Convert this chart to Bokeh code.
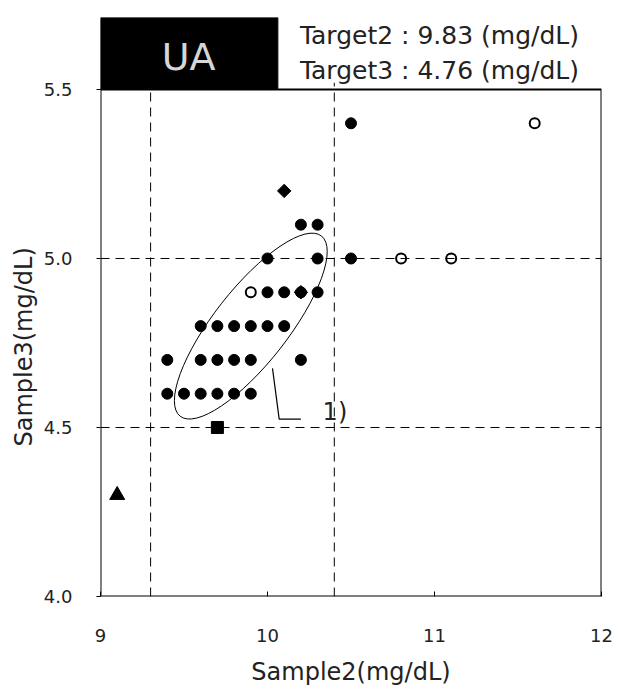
from bokeh.plotting import figure
from bokeh.models import (FixedTicker, NumeralTickFormatter, Range1d, BoxAnnotation,
                          Span, Title)
from bokeh.core.properties import value
from bokeh.embed import file_html
from bokeh.resources import INLINE
import math

# ---------------- data ----------------
title_text = ["UA"]
target_lines = ["Target2 : 9.83 (mg/dL)", "Target3 : 4.76 (mg/dL)"]
x_label = "Sample2(mg/dL)"
y_label = "Sample3(mg/dL)"

x_ticks = [9, 10, 11, 12]
y_ticks = [4.0, 4.5, 5.0, 5.5]

# filled circles
filled_x = [9.4, 9.5, 9.6, 9.7, 9.8, 9.9,
            9.4, 9.6, 9.7, 9.8, 9.9, 10.2,
            9.6, 9.7, 9.8, 9.9, 10.0, 10.1,
            10.0, 10.1, 10.2, 10.3,
            10.0, 10.3, 10.5,
            10.2, 10.3,
            10.5]
filled_y = [4.6, 4.6, 4.6, 4.6, 4.6, 4.6,
            4.7, 4.7, 4.7, 4.7, 4.7, 4.7,
            4.8, 4.8, 4.8, 4.8, 4.8, 4.8,
            4.9, 4.9, 4.9, 4.9,
            5.0, 5.0, 5.0,
            5.1, 5.1,
            5.4]
# open circles
open_x = [9.9, 10.8, 11.1, 11.6]
open_y = [4.9, 5.0, 5.0, 5.4]
# diamonds
diamond_x = [10.1, 10.2]
diamond_y = [5.2, 4.9]
# square
square_x = [9.7]
square_y = [4.5]
# triangle
triangle_x = [9.1]
triangle_y = [4.3]

# limit lines
x_limits = [9.3, 10.4]
y_limits = [4.5, 5.0]

# ellipse (centre in data units)
ellipse_cx = [9.9]
ellipse_cy = [4.8]

# callout "1)"
callout_x = [10.03, 10.07, 10.2]
callout_y = [4.675, 4.525, 4.525]
callout_text = ["1)"]
callout_text_x = [10.33]
callout_text_y = [4.545]

# ---------------- layout constants ----------------
X_MIN, X_MAX = 9, 12
Y_MIN, Y_MAX = 4.0, 5.5
Y_TOP = 5.713          # room above the plot box for the header
FONT = "DejaVu Sans"
TEXT_COLOR = "#222222"

p = figure(width=622, height=689, output_backend="svg", toolbar_location=None,
           x_range=Range1d(X_MIN, X_MAX), y_range=Range1d(Y_MIN, Y_TOP),
           min_border_left=100, min_border_right=21, min_border_top=17,
           min_border_bottom=93)
p.grid.visible = False
p.outline_line_color = None
p.background_fill_color = "white"
p.border_fill_color = "white"

p.xaxis.ticker = FixedTicker(ticks=x_ticks)
p.yaxis.ticker = FixedTicker(ticks=y_ticks)
p.xaxis.formatter = NumeralTickFormatter(format="0")
p.yaxis.formatter = NumeralTickFormatter(format="0.0")
for ax in (p.xaxis[0], p.yaxis[0]):
    ax.axis_line_color = None
    ax.minor_tick_line_color = None
    ax.major_label_text_font = FONT
    ax.major_label_text_font_size = "18px"
    ax.major_label_text_color = TEXT_COLOR
    ax.axis_label_text_font = FONT
    ax.axis_label_text_font_size = "24px"
    ax.axis_label_text_font_style = "normal"
    ax.axis_label_text_color = TEXT_COLOR
    ax.major_tick_line_color = "black"
p.xaxis.major_tick_in = 5
p.xaxis.major_tick_out = 0
p.yaxis.major_tick_in = 0
p.yaxis.major_tick_out = 4
p.xaxis.major_label_standoff = 32
p.yaxis.major_label_standoff = 24
p.xaxis.axis_label = x_label
p.xaxis.axis_label_standoff = 13

# y label as a side title so it can be centred on the plot box (not the header)
p.add_layout(Title(text=y_label, align="left", offset=150, standoff=6,
                   text_font=FONT, text_font_size="24px", text_font_style="normal",
                   text_color=TEXT_COLOR), "left")

# limit lines
for yv in y_limits:
    p.add_layout(Span(location=yv, dimension="width", line_color="black",
                      line_width=1, line_dash="9 6"))
p.segment(x0=x_limits, x1=x_limits, y0=[Y_MIN] * len(x_limits),
          y1=[Y_MAX + 0.02] * len(x_limits), line_color="black", line_width=1,
          line_dash="9 6")

# header: black box with title, target values
p.quad(left=[X_MIN], right=[X_MIN + 1.062], bottom=[Y_MAX], top=[Y_TOP],
       fill_color="black", line_color="black")
p.text(x=[X_MIN + 0.528], y=[Y_MAX + 0.095], text=title_text, text_font=value(FONT),
       text_font_size="38px", text_color="#d6d6d6", text_align="center",
       text_baseline="middle")
p.text(x=[X_MIN + 1.194] * 2, y=[Y_MAX + 0.160, Y_MAX + 0.056], text=target_lines,
       text_font=value(FONT), text_font_size="25px", text_color=TEXT_COLOR,
       text_align="left", text_baseline="middle")

# ellipse
p.ellipse(x=ellipse_cx, y=ellipse_cy, width=229, height=74,
          width_units="screen", height_units="screen",
          angle=math.radians(51.9), fill_color=None, line_color="black", line_width=1)

# callout
p.line(callout_x, callout_y, line_color="black", line_width=1.2)
p.text(x=callout_text_x, y=callout_text_y, text=callout_text,
       text_font=value(FONT), text_font_size="24px", text_baseline="middle",
       text_align="left", text_color=TEXT_COLOR)

# points
p.scatter(filled_x, filled_y, marker="circle", size=11, fill_color="black",
          line_color="black")
p.scatter(open_x, open_y, marker="circle", size=10, fill_color="white",
          line_color="black", line_width=2)
p.scatter(diamond_x, diamond_y, marker="square", size=9.5, angle=math.pi / 4,
          fill_color="black", line_color="black")
p.scatter(square_x, square_y, marker="square", size=12, fill_color="black",
          line_color="black")
p.scatter(triangle_x, triangle_y, marker="triangle", size=15, fill_color="black",
          line_color="black")

# plot box outline
p.add_layout(BoxAnnotation(left=X_MIN, right=X_MAX, bottom=Y_MIN, top=Y_MAX,
                           fill_alpha=0, line_color="black", line_alpha=1.0,
                           line_width=2))

open("out.html", "w").write(file_html(p, INLINE))
